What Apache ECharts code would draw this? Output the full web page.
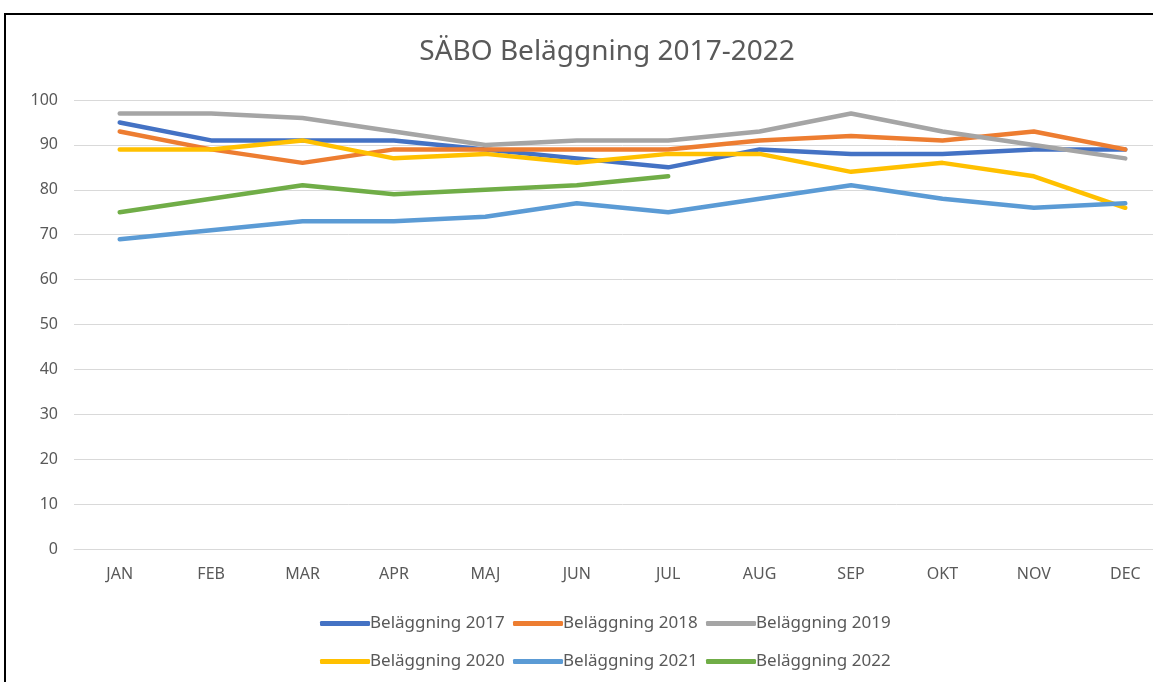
<!DOCTYPE html>
<html>
<head>
<meta charset="utf-8">
<script src="https://cdn.jsdelivr.net/npm/echarts@6/dist/echarts.min.js"></script>
<style>
  html, body { margin: 0; padding: 0; background: #fff; overflow: hidden; }
  #chart { width: 1176px; height: 682px; }
</style>
</head>
<body>
<div id="chart"></div>
<script>
const months = ['JAN', 'FEB', 'MAR', 'APR', 'MAJ', 'JUN', 'JUL', 'AUG', 'SEP', 'OKT', 'NOV', 'DEC']
const seriesNames = ['Beläggning 2017', 'Beläggning 2018', 'Beläggning 2019', 'Beläggning 2020', 'Beläggning 2021', 'Beläggning 2022']
const values2017 = [95, 91, 91, 91, 89, 87, 85, 89, 88, 88, 89, 89]
const values2018 = [93, 89, 86, 89, 89, 89, 89, 91, 92, 91, 93, 89]
const values2019 = [97, 97, 96, 93, 90, 91, 91, 93, 97, 93, 90, 87]
const values2020 = [89, 89, 91, 87, 88, 86, 88, 88, 84, 86, 83, 76]
const values2021 = [69, 71, 73, 73, 74, 77, 75, 78, 81, 78, 76, 77]
const values2022 = [75, 78, 81, 79, 80, 81, 83]

const lineColors = ['#4472C4', '#ED7D31', '#A5A5A5', '#FFC000', '#5B9BD5', '#70AD47']
const allValues = [values2017, values2018, values2019, values2020, values2021, values2022]
const textColor = '#595959'
const font = 'Noto Sans'

// one legend per item so they sit on the same 3x2 grid as the picture
const legendSlots = [[315, 610], [508, 610], [701, 610], [315, 648], [508, 648], [701, 648]]
const legends = seriesNames.map((name, i) => ({
  data: [name],
  left: legendSlots[i][0],
  top: legendSlots[i][1],
  icon: 'roundRect',
  itemWidth: 50,
  itemHeight: 5,
  itemGap: 0,
  selectedMode: false,
  textStyle: { color: textColor, fontSize: 17, fontFamily: font, padding: [0, 0, 0, -5] }
}))

const chart = echarts.init(document.getElementById('chart'))
chart.setOption({
  animation: false,
  title: {
    text: 'SÄBO Beläggning 2017-2022',
    left: 602,
    top: 33,
    textAlign: 'center',
    textStyle: { color: textColor, fontSize: 28, fontWeight: 'normal', fontFamily: font }
  },
  graphic: [{
    type: 'rect',
    shape: { x: 5, y: 14, width: 1190, height: 690 },
    style: { fill: 'none', stroke: '#000', lineWidth: 2 },
    silent: true
  }],
  legend: legends,
  grid: { left: 74, right: 5, top: 100, bottom: 133 },
  xAxis: {
    type: 'category',
    data: months,
    boundaryGap: true,
    axisLine: { lineStyle: { color: '#d9d9d9', width: 1 } },
    axisTick: { show: false },
    axisLabel: { color: textColor, fontSize: 16, fontFamily: font, margin: 17 }
  },
  yAxis: {
    type: 'value',
    min: 0,
    max: 100,
    interval: 10,
    axisLine: { show: false },
    axisTick: { show: false },
    splitLine: { lineStyle: { color: '#d9d9d9', width: 1 } },
    axisLabel: { color: textColor, fontSize: 16, fontFamily: font, margin: 16 }
  },
  series: seriesNames.map((name, i) => ({
    name: name,
    type: 'line',
    data: allValues[i],
    color: lineColors[i],
    showSymbol: false,
    symbol: 'none',
    smooth: false,
    lineStyle: { color: lineColors[i], width: 4.5, cap: 'round', join: 'round' }
  }))
})
</script>
</body>
</html>
